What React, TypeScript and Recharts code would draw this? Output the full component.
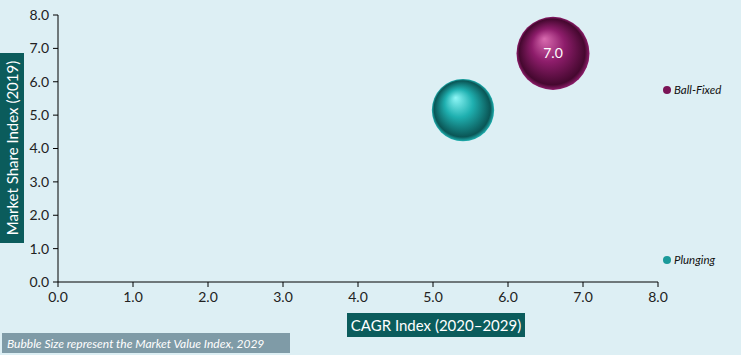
import { ScatterChart, Scatter, XAxis, YAxis, ZAxis, LabelList, Legend } from 'recharts'

// ─── Data ────────────────────────────────────────────────────────────

const seriesNames = ['Plunging', 'Ball-Fixed']
const cagrIndex = [5.4, 6.6]
const shareIndex = [5.15, 6.85]
const valueIndex = [5.1, 7.0]
const axisTicks = [0, 1, 2, 3, 4, 5, 6, 7, 8]

const palette = [
    { id: 'gTeal', light: '#8ff7f7', mid: '#1fb0b0', dark: '#0a5656', dot: '#1a9a9a' },
    { id: 'gPlum', light: '#d96bb0', mid: '#8e1d6b', dark: '#45082f', dot: '#7a1456' },
]

const fontFamily = 'Lato, "Open Sans", sans-serif'

// radius grows with sqrt of the value (area scaling, like Excel)
const bubbleShape = (grad: string) => (props: any) => {
    const { cx, cy, payload } = props
    const r = Math.sqrt(payload.z) * 13.8
    return <circle cx={cx} cy={cy} r={r} fill={`url(#${grad})`} />
}

function LegendBox() {
    const tops = [253, 83]
    return (
        <div style={{ position: 'relative', width: 0, height: 0 }}>
            {seriesNames.map((n, i) => (
                <div key={n} style={{ position: 'absolute', left: 663, top: tops[i], display: 'flex', alignItems: 'center', fontFamily, fontStyle: 'italic', fontSize: 11.5, color: '#111', whiteSpace: 'nowrap' }}>
                    <span style={{ width: 8, height: 8, borderRadius: 4, background: palette[i].dot, marginRight: 3, display: 'inline-block' }} />
                    {n}
                </div>
            ))}
        </div>
    )
}

export default function App() {
    const data = seriesNames.map((n, i) => [{ x: cagrIndex[i], y: shareIndex[i], z: valueIndex[i] }])

    return (
        <div style={{ position: 'fixed', left: 0, top: 0, width: 741, height: 355, background: '#ddeff4', fontFamily }}>
            <ScatterChart width={741} height={355} margin={{ top: 15, right: 83, bottom: 43, left: 18 }}>
                <defs>
                    {palette.map(p => (
                        <radialGradient key={p.id} id={p.id} cx="0.5" cy="0.5" r="0.5" fx="0.38" fy="0.3">
                            <stop offset="0%" stopColor={p.light} />
                            <stop offset="45%" stopColor={p.mid} />
                            <stop offset="90%" stopColor={p.dark} />
                            <stop offset="100%" stopColor={p.mid} />
                        </radialGradient>
                    ))}
                </defs>
                <XAxis type="number" dataKey="x" domain={[0, 8]} ticks={axisTicks} height={30}
                    tickFormatter={(v: number) => v.toFixed(1)} stroke="#000" tickSize={5}
                    tick={{ fill: '#222', fontSize: 14, dy: 3 }} allowDataOverflow />
                <YAxis type="number" dataKey="y" domain={[0, 8]} ticks={axisTicks} width={40}
                    tickFormatter={(v: number) => v.toFixed(1)} stroke="#000" tickSize={5}
                    tick={{ fill: '#222', fontSize: 14, dx: -2 }} allowDataOverflow />
                <ZAxis type="number" dataKey="z" range={[100, 100]} />
                <Legend content={() => <LegendBox />} wrapperStyle={{ left: 0, top: 0 }} />
                {seriesNames.map((n, i) => (
                    <Scatter key={n} name={n} data={data[i]} shape={bubbleShape(palette[i].id)} isAnimationActive={false}>
                        {i === 1 && <LabelList dataKey="z" position="center" fill="#fff" fontSize={14}
                            formatter={(v: any) => Number(v).toFixed(1)} />}
                    </Scatter>
                ))}
            </ScatterChart>

            <div style={{ position: 'absolute', left: 0, top: 53, width: 24, height: 190, background: '#0b5c5c', color: '#fff', display: 'flex', alignItems: 'center', justifyContent: 'center' }}>
                <span style={{ transform: 'rotate(-90deg)', whiteSpace: 'nowrap', fontSize: 15 }}>Market Share Index (2019)</span>
            </div>
            <div style={{ position: 'absolute', left: 347, top: 313, width: 178, height: 24, background: '#0b5c5c', color: '#fff', display: 'flex', alignItems: 'center', justifyContent: 'center', fontSize: 15, whiteSpace: 'nowrap' }}>
                CAGR Index (2020–2029)
            </div>
            <div style={{ position: 'absolute', left: 2, top: 333, width: 288, height: 20, background: '#7f9ba7', color: '#fff', display: 'flex', alignItems: 'center', paddingLeft: 5, boxSizing: 'border-box', fontSize: 12, fontStyle: 'italic', whiteSpace: 'nowrap' }}>
                Bubble Size represent the Market Value Index, 2029
            </div>
        </div>
    )
}
